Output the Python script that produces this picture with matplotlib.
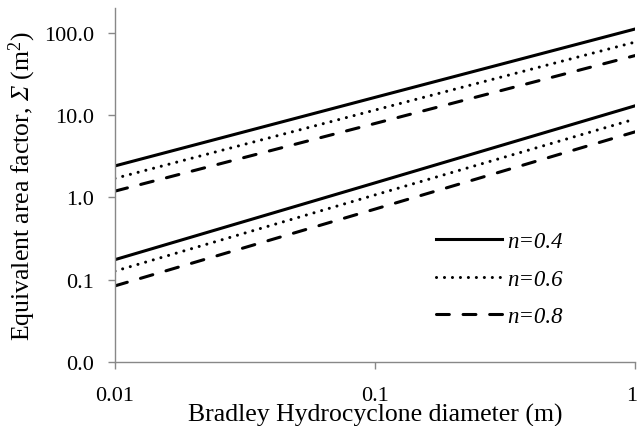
import matplotlib
matplotlib.use("Agg")
import matplotlib.pyplot as plt
import matplotlib.transforms as mtransforms
from matplotlib.ticker import FixedLocator, FixedFormatter, NullLocator

plt.rcParams['font.family'] = ['Liberation Serif', 'DejaVu Serif']
plt.rcParams['mathtext.fontset'] = 'custom'
plt.rcParams['mathtext.rm'] = 'Liberation Serif:italic'
plt.rcParams['mathtext.it'] = 'Liberation Serif:italic'
plt.rcParams['mathtext.sf'] = 'Liberation Serif'

diameter = [0.01, 0.1, 1.0]
# upper group
up_n04 = [2.41, 16.4, 111.0]
up_n06 = [1.70, 11.5, 77.0]
up_n08 = [1.19, 7.9, 52.8]
# lower group
lo_n04 = [0.175, 1.5, 12.95]
lo_n06 = [0.127, 1.07, 8.95]
lo_n08 = [0.084, 0.72, 6.25]
labels = ['n=0.4', 'n=0.6', 'n=0.8']
yticks = [0.01, 0.1, 1, 10, 100]
yticklabels = ['0.0', '0.1', '1.0', '10.0', '100.0']
xticks = [0.01, 0.1, 1]
xticklabels = ['0.01', '0.1', '1']

fig = plt.figure(figsize=(6.37, 4.27), dpi=100)
ax = fig.add_axes([0.1805, 0.150, 0.997 - 0.1805, 0.979 - 0.150])

lw = 2.2
styles = [dict(linestyle='-'),
          dict(linestyle=(0, (0.01, 2.6)), dash_capstyle='round'),
          dict(linestyle=(0, (4.2, 4.5)), dash_capstyle='round')]
for ys_up, ys_lo, st, lab in zip([up_n04, up_n06, up_n08], [lo_n04, lo_n06, lo_n08], styles, labels):
    ax.plot(diameter, ys_up, color='black', lw=lw, label=lab, **st)
    ax.plot(diameter, ys_lo, color='black', lw=lw, **st)

ax.set_xscale('log')
ax.set_yscale('log')
ax.set_xlim(0.01, 1)
ax.set_ylim(0.01, 200)
ax.xaxis.set_major_locator(FixedLocator(xticks))
ax.xaxis.set_major_formatter(FixedFormatter(xticklabels))
ax.xaxis.set_minor_locator(NullLocator())
ax.yaxis.set_major_locator(FixedLocator(yticks))
ax.yaxis.set_major_formatter(FixedFormatter(yticklabels))
ax.yaxis.set_minor_locator(NullLocator())

for s in ['top', 'right']:
    ax.spines[s].set_visible(False)
for s in ['left', 'bottom']:
    ax.spines[s].set_color('#888888')
    ax.spines[s].set_linewidth(1.0)
ax.tick_params(axis='both', colors='#888888', labelcolor='black', length=5, width=1.0,
               labelsize=16)
ax.tick_params(axis='y', pad=10)
ax.tick_params(axis='x', pad=12)

# keep the last x tick label inside the figure
last = ax.get_xticklabels()[-1]
last.set_horizontalalignment('right')
last.set_transform(last.get_transform() + mtransforms.ScaledTranslation(1.5 / 72, 0, fig.dpi_scale_trans))

ax.set_xlabel('Bradley Hydrocyclone diameter (m)', fontsize=18.5)
ax.xaxis.set_label_coords(0.5, -0.165)
ax.xaxis.label.set_verticalalignment('baseline')
ax.set_ylabel('Equivalent area factor, $\\Sigma$ (m$^{\\mathsf{2}}$)', fontsize=18.5)
ax.yaxis.set_label_coords(-0.179, 0.5)
ax.yaxis.label.set_verticalalignment('center')

leg = ax.legend(loc='upper left', bbox_to_anchor=(0.599, 0.396), frameon=False,
                prop={'family': 'Liberation Serif', 'style': 'italic', 'size': 16.5},
                handlelength=2.9, handletextpad=0.22, labelspacing=0.72, borderaxespad=0)

fig.savefig('out.png', dpi=100)
